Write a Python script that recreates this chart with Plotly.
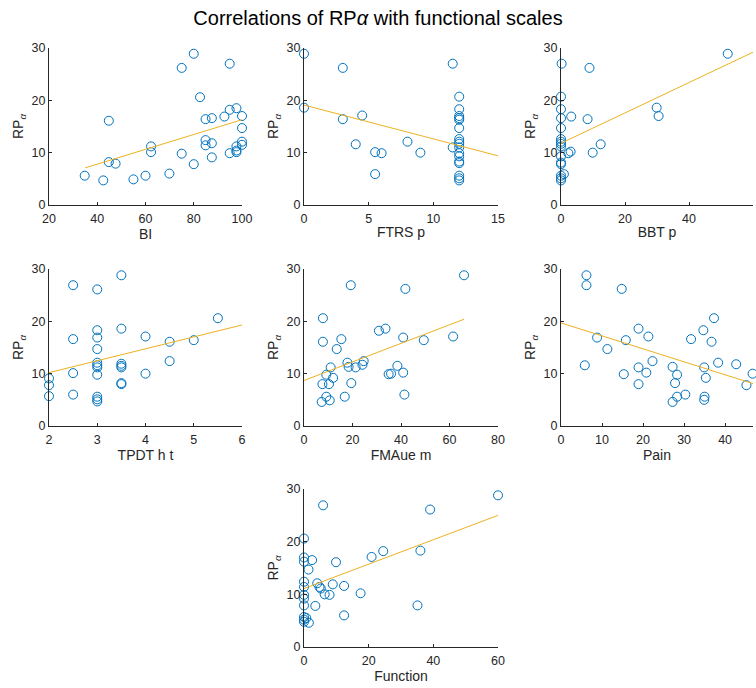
import plotly.graph_objects as go

# ---- data ----
bi_x = [34.8, 42.5, 44.8, 44.8, 47.6, 55, 60, 62.3, 62.3, 69.9, 75, 75, 80, 80, 82.6, 84.9, 84.9, 84.9,
        87.5, 87.5, 87.5, 92.7, 94.9, 94.9, 94.9, 97.7, 97.7, 97.7, 97.7, 100, 100, 100, 100]
bi_y = [5.6, 4.7, 16.1, 8.2, 7.9, 4.9, 5.6, 11.2, 10.1, 6.0, 26.2, 9.8, 28.9, 7.8, 20.6, 16.4, 12.4, 11.4,
        16.6, 11.8, 9.1, 16.9, 27.0, 18.2, 9.9, 18.5, 11.2, 10.4, 10.1, 17.0, 14.7, 12.1, 11.5]
bi_fit_x = [35, 100]
bi_fit_y = [7.1, 16.3]

ftrs_x = [0, 0, 3.0, 3.0, 4.5, 4.0, 5.5, 6.0, 5.5, 8.0, 9.0, 11.5, 11.5,
          12, 12, 12, 12, 12, 12, 12, 12, 12, 12, 12, 12, 12, 12, 12, 12, 12]
ftrs_y = [28.9, 18.6, 26.2, 16.4, 17.1, 11.6, 10.1, 9.9, 5.9, 12.1, 10.0, 27.0, 11.0,
          20.7, 18.3, 17.0, 16.6, 16.3, 14.7, 12.6, 12.1, 11.7, 11.0, 9.9, 9.3, 8.3, 8.0, 5.6, 5.1, 4.7]
ftrs_fit_x = [0, 15]
ftrs_fit_y = [19.1, 9.4]

bbt_x = [0.2, 8.9, 0, 0, 0, 0, 0, 0, 0, 0, 3.2, 8.3, 29.9, 30.5, 52.1, 12.4, 9.9, 3.0, 2.3,
         0, 0, 0, 0.9, 0, 0, 0]
bbt_y = [27.0, 26.2, 20.7, 18.3, 16.6, 14.7, 12.6, 12.1, 11.7, 11.2, 16.9, 16.4, 18.6, 17.0, 28.9,
         11.6, 10.0, 10.2, 9.9, 9.3, 8.1, 7.8, 5.9, 5.6, 5.1, 4.7]
bbt_fit_x = [0, 60]
bbt_fit_y = [11.8, 29.2]

tpdt_x = [2, 2, 2, 2.5, 2.5, 2.5, 2.5, 3, 3, 3, 3, 3, 3, 3, 3, 3, 3, 3,
          3.5, 3.5, 3.5, 3.5, 3.5, 3.5, 3.5, 4, 4, 4.5, 4.5, 5, 5.5]
tpdt_y = [9.1, 7.8, 5.7, 26.9, 16.6, 10.1, 6.0, 26.1, 18.3, 16.9, 14.7, 12.1, 11.6, 11.2, 9.8, 5.6, 5.1, 4.7,
          28.8, 18.6, 11.9, 11.5, 11.2, 8.2, 8.0, 17.1, 10.0, 16.1, 12.4, 16.4, 20.6]
tpdt_fit_x = [2, 6]
tpdt_fit_y = [10.2, 19.3]

fma_x = [7.8, 7.8, 7.6, 7.3, 9.2, 9.2, 10.3, 10.6, 11.0, 12.0, 13.5, 15.4, 16.8, 17.9, 18.4, 19.3, 19.5,
         21.3, 24.1, 24.6, 30.9, 33.6, 34.9, 35.9, 38.5, 40.9, 40.9, 41.4, 41.8, 49.4, 61.5, 66.0]
fma_y = [20.6, 16.1, 8.0, 4.6, 9.8, 5.6, 8.0, 4.9, 11.2, 9.2, 14.7, 16.6, 5.6, 12.1, 11.3, 26.9, 8.2,
         11.2, 11.7, 12.4, 18.2, 18.6, 9.9, 10.0, 11.5, 16.9, 10.2, 6.0, 26.2, 16.4, 17.1, 28.8]
fma_fit_x = [0, 66]
fma_fit_y = [8.7, 20.4]

pain_x = [6.2, 6.2, 5.8, 8.8, 11.3, 14.8, 15.3, 15.8, 18.9, 18.9, 18.9, 20.8, 21.3, 22.3, 27.2, 27.2,
          27.8, 28.3, 28.3, 30.3, 31.7, 34.7, 34.9, 35.0, 34.9, 35.3, 36.7, 37.3, 38.3, 42.7, 45.2, 46.7]
pain_y = [28.8, 26.9, 11.6, 16.9, 14.7, 26.2, 9.9, 16.4, 18.6, 11.2, 8.0, 10.2, 17.1, 12.4, 11.3, 4.6,
          8.2, 9.8, 5.6, 6.0, 16.6, 18.3, 11.2, 5.6, 5.0, 9.2, 16.1, 20.6, 12.1, 11.8, 7.8, 10.0]
pain_fit_x = [0, 46.8]
pain_fit_y = [19.7, 8.1]

func_x = [0, 0, 0, 0, 0, 0, 0, 0, 0, 0, 0, 0.7, 1.5, 1.4, 2.5, 3.5, 4.1, 4.8, 5.2, 5.9, 6.4, 7.9, 8.9,
          9.9, 12.4, 12.4, 17.5, 20.9, 24.5, 35.1, 36.0, 39.0, 60]
func_y = [20.6, 17.0, 16.2, 12.4, 11.4, 9.9, 9.2, 7.9, 5.7, 5.2, 4.8, 5.5, 4.6, 14.7, 16.5, 7.8, 12.1, 11.4,
          11.1, 26.9, 10.0, 9.9, 11.9, 16.1, 11.6, 6.0, 10.2, 17.1, 18.2, 7.9, 18.3, 26.1, 28.8]
func_fit_x = [0, 60]
func_fit_y = [11.1, 25.0]

panels = [
    ("BI", bi_x, bi_y, bi_fit_x, bi_fit_y, [20, 100], [20, 40, 60, 80, 100]),
    ("FTRS p", ftrs_x, ftrs_y, ftrs_fit_x, ftrs_fit_y, [0, 15], [0, 5, 10, 15]),
    ("BBT p", bbt_x, bbt_y, bbt_fit_x, bbt_fit_y, [0, 60], [0, 20, 40, 60]),
    ("TPDT h t", tpdt_x, tpdt_y, tpdt_fit_x, tpdt_fit_y, [2, 6], [2, 3, 4, 5, 6]),
    ("FMAue m", fma_x, fma_y, fma_fit_x, fma_fit_y, [0, 80], [0, 20, 40, 60, 80]),
    ("Pain", pain_x, pain_y, pain_fit_x, pain_fit_y, [0, 46.8], [0, 10, 20, 30, 40]),
    ("Function", func_x, func_y, func_fit_x, func_fit_y, [0, 60], [0, 20, 40, 60]),
]

W, H = 756, 688
cols_px = [(49, 242), (304, 498), (561, 753)]
rows_px = [(48, 205), (269, 426), (489, 647)]
positions = [(0, 0), (0, 1), (0, 2), (1, 0), (1, 1), (1, 2), (2, 1)]

fig = go.Figure()
axis_color = "#262626"
font_family = "Liberation Sans, Arial, Helvetica, sans-serif"

layout = dict(
    width=W, height=H, autosize=False,
    margin=dict(l=0, r=0, t=0, b=0, autoexpand=False),
    paper_bgcolor="white", plot_bgcolor="white",
    showlegend=False,
    font=dict(family=font_family, size=12, color=axis_color),
    title=dict(text="Correlations of RP<i>α</i> with functional scales",
               x=0.5, xanchor="center", y=1 - 18 / H, yanchor="middle",
               font=dict(size=20, color="#000000", family=font_family)),
)

for i, (name, xs, ys, fx, fy, xr, xt) in enumerate(panels):
    r, c = positions[i]
    xa = "x" if i == 0 else f"x{i+1}"
    ya = "y" if i == 0 else f"y{i+1}"
    fig.add_trace(go.Scatter(x=xs, y=ys, mode="markers", xaxis=xa, yaxis=ya,
                             marker=dict(symbol="circle-open", size=9,
                                         color="#0072BD", line=dict(width=1, color="#0072BD")),
                             cliponaxis=False))
    fig.add_trace(go.Scatter(x=fx, y=fy, mode="lines", xaxis=xa, yaxis=ya,
                             line=dict(color="#EDB120", width=1)))
    x0, x1 = cols_px[c]
    y0, y1 = rows_px[r]
    xkey = "xaxis" if i == 0 else f"xaxis{i+1}"
    ykey = "yaxis" if i == 0 else f"yaxis{i+1}"
    layout[xkey] = dict(
        domain=[x0 / W, x1 / W], anchor=ya, range=xr, tickvals=xt, automargin=False,
        showline=True, linecolor=axis_color, linewidth=1, mirror=False,
        ticks="inside", ticklen=3, tickcolor=axis_color, showgrid=False, zeroline=False,
        tickfont=dict(size=12.5, color=axis_color), ticklabelstandoff=2,
        title=dict(text=name, standoff=2, font=dict(size=14, color=axis_color)),
    )
    layout[ykey] = dict(
        domain=[1 - y1 / H, 1 - y0 / H], anchor=xa, range=[0, 30], tickvals=[0, 10, 20, 30],
        automargin=False,
        showline=True, linecolor=axis_color, linewidth=1, mirror=False,
        ticks="inside", ticklen=3, tickcolor=axis_color, showgrid=False, zeroline=False,
        tickfont=dict(size=12.5, color=axis_color),
        title=dict(text="RP<sub><i>α</i></sub>", standoff=4, font=dict(size=14, color=axis_color)),
    )

fig.update_layout(**layout)
fig.write_html("out.html")
